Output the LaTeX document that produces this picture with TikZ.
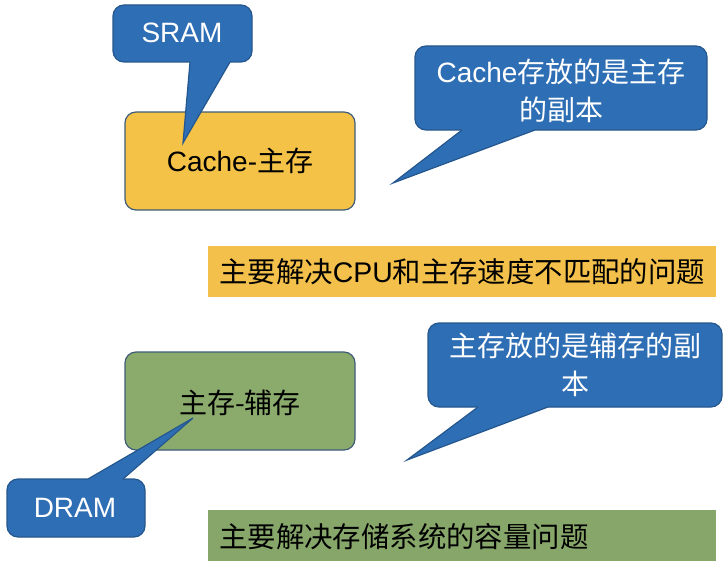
\documentclass[tikz,border=0pt]{standalone}
\usepackage{fontspec}
\setmainfont{Liberation Sans}
\newfontfamily\cjk{Noto Sans CJK SC}
\definecolor{callblue}{HTML}{2E6EB4}
\definecolor{callline}{HTML}{25578E}
\definecolor{boxline}{HTML}{3F5D78}
\definecolor{cacheorange}{HTML}{F4C247}
\definecolor{maingreen}{HTML}{8AAB6C}
\definecolor{barorange}{HTML}{F3C14B}
\definecolor{bargreen}{HTML}{87A76A}
\begin{document}
\begin{tikzpicture}[x=1pt,y=-1pt,
  box/.style={draw=boxline, line width=1.2pt, rounded corners=11pt, inner sep=0pt},
  callbody/.style={box, fill=callblue, draw=callline},
  tailfill/.style={fill=callblue},
  tailline/.style={draw=callline, line width=1.2pt, line join=miter},
  txt/.style={font=\fontsize{28}{38}\selectfont, align=center, inner sep=0pt},
  wtxt/.style={txt, text=white},
  bartxt/.style={font=\fontsize{28.4}{34}\selectfont\cjk, inner sep=0pt, anchor=west},
  bar/.style={inner sep=0pt}]
\useasboundingbox (0,0) rectangle (727,567);

% main boxes
\node[box, fill=cacheorange, minimum width=230pt, minimum height=98pt] (cache) at (240,161) {};
\node[txt] (cachetxt) at (240,161) {Cache-{\cjk 主存}};
\node[box, fill=maingreen, minimum width=230pt, minimum height=98pt] (mainbox) at (240,401) {};
\node[txt] (maintxt) at (240,403) {\cjk 主存-辅存};

% bars
\node[bar, fill=barorange, minimum width=508pt, minimum height=51pt] (bar1) at (462,271.5) {};
\node[bartxt] (bar1txt) at (219,272) {主要解决{\rmfamily CPU}和主存速度不匹配的问题};
\node[bar, fill=bargreen, minimum width=508pt, minimum height=51pt] (bar2) at (462,535.5) {};
\node[bartxt] (bar2txt) at (219,537) {主要解决存储系统的容量问题};

% SRAM callout
\node[callbody, minimum width=139pt, minimum height=57pt] (sram) at (182.5,33.5) {};
\coordinate (sramtip) at (183,143);
\fill[tailfill] (190,56) -- (190,62) -- (sramtip) -- (230,62) -- (230,56) -- cycle;
\draw[tailline] (190,62) -- (sramtip) -- (230,62);
\node[wtxt] (sramtxt) at (182,33) {SRAM};

% Cache copy callout
\node[callbody, minimum width=292pt, minimum height=84pt] (copy1) at (561,88) {};
\coordinate (copy1tip) at (393,183);
\fill[tailfill] (462,124) -- (462,130) -- (copy1tip) -- (535,130) -- (535,124) -- cycle;
\draw[tailline] (462,130) -- (copy1tip) -- (535,130);
\node[wtxt] (copy1txt) at (561,91) {Cache{\cjk 存放的是主存}\\{\cjk 的副本}};

% main-aux copy callout
\node[callbody, minimum width=294pt, minimum height=84pt] (copy2) at (575,365) {};
\coordinate (copy2tip) at (407,460);
\fill[tailfill] (478,401) -- (478,407) -- (copy2tip) -- (548,407) -- (548,401) -- cycle;
\draw[tailline] (478,407) -- (copy2tip) -- (548,407);
\node[wtxt] (copy2txt) at (575,365) {\cjk 主存放的是辅存的副\\\cjk 本};

% DRAM callout
\node[callbody, minimum width=138pt, minimum height=58pt] (dram) at (76,508) {};
\coordinate (dramtip) at (193,418);
\fill[tailfill] (88,485) -- (88,479) -- (dramtip) -- (123,479) -- (123,485) -- cycle;
\draw[tailline] (88,479) -- (dramtip) -- (123,479);
\node[wtxt] (dramtxt) at (75,508) {DRAM};
\end{tikzpicture}
\end{document}
